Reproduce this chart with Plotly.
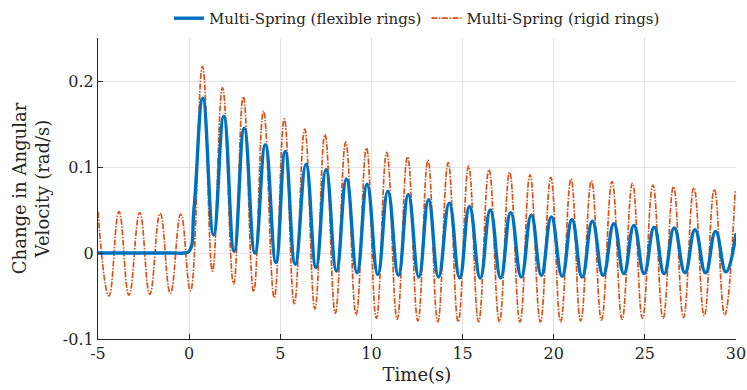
import plotly.graph_objects as go

# Extrema (time in s, value in rad/s)
rigid_t = [-5.0, -4.40, -3.85, -3.30, -2.71, -2.16, -1.59, -1.03, -0.46, 0.07,
           0.73, 1.28, 1.83, 2.44, 2.97, 3.54, 4.08, 4.67, 5.22, 5.77, 6.34, 6.90,
           7.45, 8.02, 8.59, 9.16, 9.73, 10.27, 10.84, 11.41, 11.98, 12.55, 13.10,
           13.64, 14.21, 14.76, 15.33, 15.88, 16.45, 17.02, 17.58, 18.15, 18.70,
           19.27, 19.84, 20.38, 20.95, 21.48, 22.07, 22.62, 23.20, 23.75, 24.32,
           24.87, 25.44, 26.00, 26.57, 27.12, 27.69, 28.26, 28.81, 29.38, 29.95]
rigid_v = [0.048, -0.050, 0.048, -0.049, 0.047, -0.048, 0.046, -0.047, 0.045, -0.044,
           0.217, -0.021, 0.192, -0.036, 0.182, -0.045, 0.165, -0.052, 0.156, -0.059,
           0.144, -0.065, 0.138, -0.070, 0.129, -0.072, 0.122, -0.076, 0.117, -0.077,
           0.112, -0.079, 0.108, -0.080, 0.105, -0.080, 0.101, -0.080, 0.097, -0.080,
           0.094, -0.080, 0.091, -0.080, 0.088, -0.080, 0.086, -0.079, 0.084, -0.078,
           0.083, -0.077, 0.081, -0.076, 0.079, -0.076, 0.077, -0.075, 0.076, -0.073,
           0.074, -0.072, 0.072]

flex_t = [-5.0, -4.0, -3.0, -2.0, -1.0, -0.3, 0.0, 0.27, 0.75, 1.34, 1.90, 2.47,
          3.02, 3.61, 4.18, 4.76, 5.27,
          5.82, 6.41, 6.96, 7.51, 8.08, 8.63, 9.21, 9.76, 10.35, 10.90, 11.48, 12.02,
          12.60, 13.13, 13.68, 14.27, 14.84, 15.38, 15.97, 16.52, 17.09, 17.64, 18.22,
          18.77, 19.32, 19.87, 20.46, 21.00, 21.56, 22.12, 22.71, 23.30, 23.85, 24.40,
          24.96, 25.51, 26.06, 26.61, 27.20, 27.75, 28.33, 28.88, 29.45, 30.0]
flex_v = [0.0, 0.0, 0.0, 0.0, 0.0, 0.0, 0.002, 0.052, 0.180, 0.021, 0.159, 0.002,
          0.145, 0.000, 0.126, -0.011,
          0.118, -0.013, 0.103, -0.017, 0.097, -0.021, 0.086, -0.023, 0.080, -0.025,
          0.072, -0.026, 0.068, -0.028, 0.062, -0.028, 0.058, -0.029, 0.054, -0.029,
          0.050, -0.029, 0.047, -0.028, 0.044, -0.026, 0.042, -0.027, 0.039, -0.028,
          0.037, -0.026, 0.034, -0.024, 0.032, -0.024, 0.030, -0.024, 0.029, -0.023,
          0.027, -0.023, 0.025, -0.022, 0.023]

x_ticks = [-5, 0, 5, 10, 15, 20, 25, 30]
y_ticks = [-0.1, 0, 0.1, 0.2]
y_tick_labels = ["-0.1", "0", "0.1", "0.2"]

FONT = "DejaVu Serif"
TXT = "#262626"

fig = go.Figure()
fig.add_trace(go.Scatter(
    x=rigid_t, y=rigid_v, mode="lines", name="Multi-Spring (rigid rings)",
    line=dict(color="#D95319", width=1.7, dash="6px,1.5px,1.5px,1.5px",
              shape="spline", smoothing=1.3),
    legendrank=2))
fig.add_trace(go.Scatter(
    x=flex_t, y=flex_v, mode="lines", name="Multi-Spring (flexible rings)",
    line=dict(color="#0072BD", width=3.4, shape="spline", smoothing=1.3),
    legendrank=1))

fig.update_layout(
    width=747, height=390,
    margin=dict(l=98, r=11, t=38, b=51, autoexpand=False),
    paper_bgcolor="white", plot_bgcolor="white",
    font=dict(family=FONT, color=TXT, size=16),
    showlegend=True,
    legend=dict(orientation="h", x=0.5, xanchor="center", xref="paper",
                y=0.995, yref="container", yanchor="top",
                font=dict(size=15, family=FONT, color=TXT), itemwidth=30,
                bgcolor="rgba(0,0,0,0)"),
)
fig.update_xaxes(
    range=[-5, 30], tickvals=x_ticks, ticktext=[str(v) for v in x_ticks],
    showgrid=True, gridcolor="#e3e3e3", gridwidth=1, automargin=False,
    showline=True, linecolor=TXT, linewidth=1.2, mirror=False,
    ticks="inside", ticklen=5, tickcolor=TXT, zeroline=False,
    tickfont=dict(size=16, family=FONT, color=TXT),
    title=dict(text="Time(s)", font=dict(size=18, family=FONT, color=TXT), standoff=6),
)
fig.update_yaxes(
    range=[-0.1, 0.25], tickvals=y_ticks, ticktext=y_tick_labels,
    showgrid=True, gridcolor="#e3e3e3", gridwidth=1, automargin=False,
    showline=True, linecolor=TXT, linewidth=1.2, mirror=False,
    ticks="inside", ticklen=5, tickcolor=TXT, zeroline=False,
    tickfont=dict(size=16, family=FONT, color=TXT),
    title=dict(text="Change in Angular<br>Velocity (rad/s)",
               font=dict(size=18, family=FONT, color=TXT), standoff=8),
)

fig.write_html("out.html", config={"displayModeBar": False},
               post_script="document.body.style.margin='0';document.body.style.padding='0';")
